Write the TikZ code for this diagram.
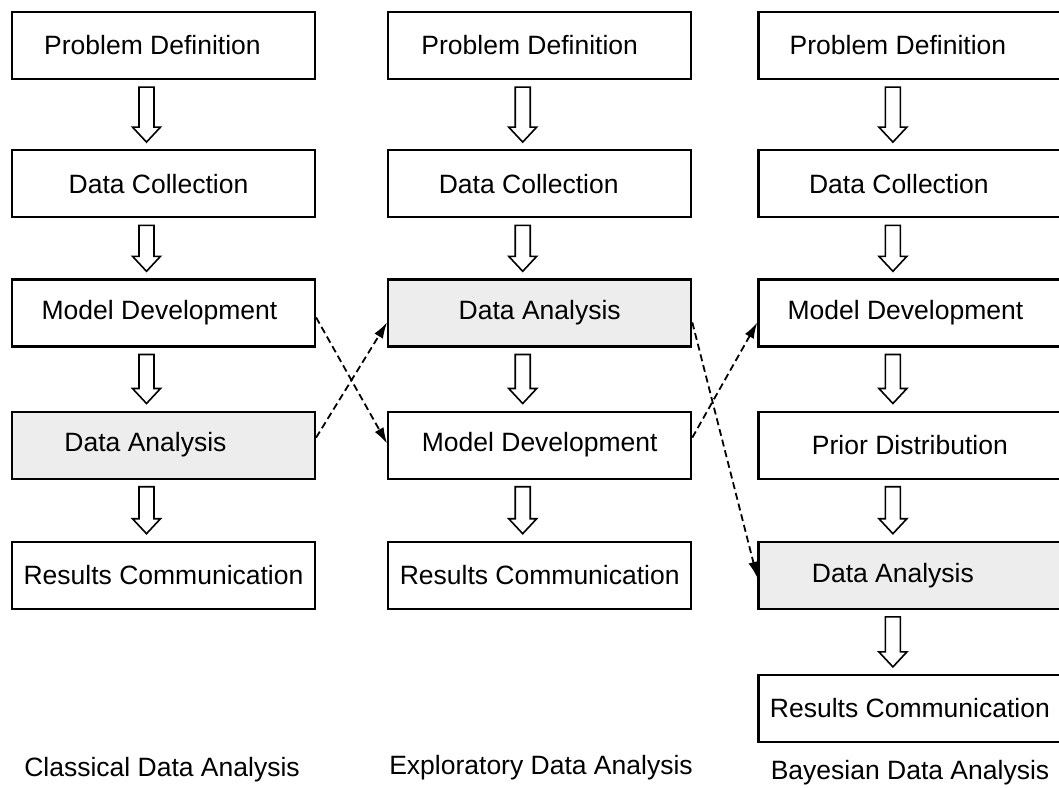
\documentclass[tikz,border=0pt]{standalone}
\usepackage{fontspec}
\setmainfont{Liberation Sans}
\usetikzlibrary{arrows.meta, positioning, calc}

\begin{document}
\begin{tikzpicture}[
    x=1pt, y=1pt,
    font=\fontsize{26.5}{30}\selectfont,
    box/.style={draw=black, line width=2.2pt, fill=white, minimum width=303pt, minimum height=67pt, inner sep=0pt},
    shade/.style={box, fill=black!7},
    lab/.style={anchor=center},
    hollow/.style={draw=black, line width=1.6pt, fill=white,
      to path={let \p1=(\tikztostart), \p2=(\tikztotarget) in
        (\x1-7.5pt,\y1) -- (\x1-7.5pt,\y2+15pt) -- (\x1-14pt,\y2+15pt) -- (\x1,\y2)
        -- (\x1+14pt,\y2+15pt) -- (\x1+7.5pt,\y2+15pt) -- (\x1+7.5pt,\y1) -- cycle}},
    jump/.style={-{Latex[length=16pt, width=10pt]}, line width=1.8pt, dash pattern=on 7pt off 4pt},
  ]
  \useasboundingbox (0,0) rectangle (1059,-787);
  % ---- classical
  \node[box] (pd1) at (163.5,-45.5) {Problem Definition\hspace*{22pt}};
  \node[box, below=69pt of pd1] (dc1) {Data Collection\hspace*{10pt}};
  \node[box, below=60pt of dc1] (md1) {Model Development\hspace*{8pt}};
  \node[shade, below=63pt of md1] (da1) {Data Analysis\hspace*{36pt}};
  \node[box, below=61pt of da1] (rc1) {Results Communication};
  % ---- exploratory
  \node[box, right=71pt of pd1] (pd2) {Problem Definition\hspace*{20pt}};
  \node[box, below=69pt of pd2] (dc2) {Data Collection\hspace*{22pt}};
  \node[shade, below=60pt of dc2] (da2) {Data Analysis};
  \node[box, below=63pt of da2] (md2) {Model Development};
  \node[box, below=61pt of md2] (rc2) {Results Communication};
  % ---- bayesian
  \node[box, right=65pt of pd2] (pd3) {Problem Definition\hspace*{24pt}};
  \node[box, below=69pt of pd3] (dc3) {Data Collection\hspace*{22pt}};
  \node[box, below=60pt of dc3] (md3) {Model Development\hspace*{9pt}};
  \node[box, below=63pt of md3] (pr3) {Prior Distribution};
  \node[shade, below=61pt of pr3] (da3) {Data Analysis\hspace*{34pt}};
  \node[box, below=64pt of da3] (rc3) {Results Communication};
  % ---- block arrows
  \foreach \a/\b in {pd1/dc1, dc1/md1, md1/da1, da1/rc1,
                     pd2/dc2, dc2/da2, da2/md2, md2/rc2,
                     pd3/dc3, dc3/md3, md3/pr3, pr3/da3, da3/rc3}
    \draw[hollow] ([shift={(-17pt,-7pt)}]\a.south) to ([shift={(-17pt,7pt)}]\b.north);
  % ---- swaps
  \draw[jump] ([yshift=-4.5pt]md1.east) -- ([yshift=1.5pt]md2.west);
  \draw[jump] ([yshift=7.5pt]da1.east) -- ([yshift=-9.5pt]da2.west);
  \draw[jump] ([yshift=-9.5pt]da2.east) -- ([yshift=-2.5pt]da3.west);
  \draw[jump] ([yshift=7.5pt]md2.east) -- ([yshift=-9.5pt]md3.west);
  % ---- captions
  \node[lab] (cap1) at (162,-770) {Classical Data Analysis};
  \node[lab] (cap2) at (541,-768) {Exploratory Data Analysis};
  \node[lab] (cap3) at (910,-773) {Bayesian Data Analysis};
\end{tikzpicture}
\end{document}
